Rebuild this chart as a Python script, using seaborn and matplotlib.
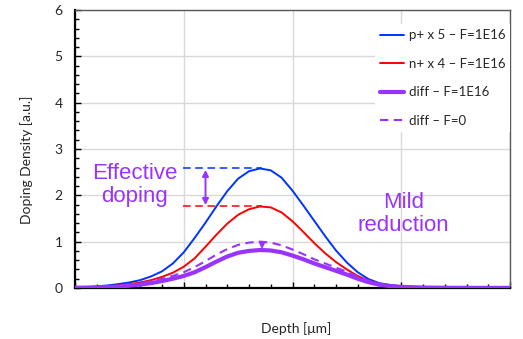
import numpy as np
import pandas as pd
import matplotlib
matplotlib.use("Agg")
import matplotlib.pyplot as plt
import seaborn as sns
from matplotlib.ticker import MultipleLocator, NullFormatter

# ---- data ----
depth = [0.0, 0.1, 0.2, 0.3, 0.4, 0.5, 0.6, 0.7, 0.8, 0.9,
         1.0, 1.1, 1.2, 1.3, 1.4, 1.5, 1.6, 1.7, 1.8, 1.9,
         2.0, 2.1, 2.2, 2.3, 2.4, 2.5, 2.6, 2.7, 2.8, 2.9,
         3.0, 3.1, 3.2, 3.3, 3.4, 3.5, 3.6, 3.7, 3.8, 3.9, 4.0]
p_plus = [0.01, 0.02, 0.035, 0.055, 0.085, 0.12, 0.17, 0.25, 0.36, 0.53,
          0.77, 1.08, 1.41, 1.76, 2.09, 2.36, 2.52, 2.58, 2.54, 2.38,
          2.10, 1.78, 1.45, 1.12, 0.81, 0.55, 0.34, 0.19, 0.105, 0.065,
          0.04, 0.03, 0.02, 0.015, 0.01, 0.008, 0.006, 0.005, 0.004, 0.004, 0.004]
n_plus = [0.005, 0.012, 0.022, 0.035, 0.055, 0.085, 0.12, 0.17, 0.24, 0.33,
          0.46, 0.64, 0.89, 1.15, 1.39, 1.58, 1.70, 1.76, 1.74, 1.63,
          1.44, 1.21, 0.97, 0.75, 0.56, 0.40, 0.26, 0.155, 0.09, 0.05,
          0.03, 0.02, 0.012, 0.008, 0.005, 0.004, 0.004, 0.003, 0.003, 0.003, 0.003]
diff_f = [0.005, 0.008, 0.013, 0.02, 0.03, 0.05, 0.075, 0.105, 0.15, 0.20,
          0.26, 0.34, 0.45, 0.57, 0.68, 0.76, 0.80, 0.82, 0.81, 0.77,
          0.70, 0.62, 0.53, 0.45, 0.37, 0.29, 0.20, 0.125, 0.07, 0.04,
          0.025, 0.015, 0.01, 0.007, 0.005, 0.004, 0.004, 0.003, 0.003, 0.003, 0.003]
diff_0 = [0.005, 0.01, 0.015, 0.025, 0.04, 0.065, 0.10, 0.145, 0.20, 0.26,
          0.34, 0.45, 0.58, 0.72, 0.84, 0.93, 0.98, 1.00, 0.98, 0.92,
          0.83, 0.73, 0.62, 0.53, 0.44, 0.35, 0.25, 0.16, 0.09, 0.05,
          0.03, 0.02, 0.012, 0.008, 0.005, 0.004, 0.004, 0.003, 0.003, 0.003, 0.003]

labels = ["p+ x 5 \u2013 F=1E16", "n+ x 4 \u2013 F=1E16",
          "diff \u2013 F=1E16", "diff \u2013 F=0"]
peak_p = 2.58
peak_n = 1.76
peak_d0 = 1.00
peak_df = 0.82
peak_x = 1.72
yticks = [0, 1, 2, 3, 4, 5, 6]

BLUE = "#0033FF"
RED = "#FF0000"
PURPLE = "#9933FF"

sns.set_style("ticks")
plt.rcParams["font.family"] = ["Lato", "DejaVu Sans"]

fig = plt.figure(figsize=(5.23, 3.39), dpi=100)
ax = fig.add_axes([75 / 523, 1 - 288 / 339, 435 / 523, 278 / 339])

df = pd.DataFrame({"depth": depth, "p": p_plus, "n": n_plus,
                   "df": diff_f, "d0": diff_0})

sns.lineplot(data=df, x="depth", y="p", ax=ax, color=BLUE, lw=1.4,
             label=labels[0], zorder=4)
sns.lineplot(data=df, x="depth", y="n", ax=ax, color=RED, lw=1.4,
             label=labels[1], zorder=4)
sns.lineplot(data=df, x="depth", y="df", ax=ax, color=PURPLE, lw=3.0,
             label=labels[2], zorder=5)
sns.lineplot(data=df, x="depth", y="d0", ax=ax, color=PURPLE, lw=1.5,
             label=labels[3], zorder=4)
ax.lines[3].set_linestyle((0, (4.0, 2.6)))

# reference dashed lines
ax.plot([0.99, peak_x], [peak_p, peak_p], color=BLUE, lw=1.1,
        ls=(0, (5, 3)), zorder=3)
ax.plot([0.99, peak_x], [peak_n, peak_n], color=RED, lw=1.1,
        ls=(0, (5, 3)), zorder=3)

# arrows
ax.annotate("", xy=(1.2, peak_n + 0.03), xytext=(1.2, peak_p - 0.03),
            arrowprops=dict(arrowstyle="<|-|>", color=PURPLE, lw=1.4,
                            mutation_scale=9, shrinkA=0, shrinkB=0), zorder=6)
ax.annotate("", xy=(peak_x, peak_df + 0.02), xytext=(peak_x, peak_d0 - 0.02),
            arrowprops=dict(arrowstyle="-|>", color=PURPLE, lw=1.4,
                            mutation_scale=9, shrinkA=0, shrinkB=0), zorder=6)

ax.text(0.55, 2.22, "Effective\ndoping", color=PURPLE, fontsize=16,
        family=["Liberation Sans", "DejaVu Sans"], ha="center", va="center",
        linespacing=1.12)
ax.text(3.02, 1.6, "Mild\nreduction", color=PURPLE, fontsize=16,
        family=["Liberation Sans", "DejaVu Sans"], ha="center", va="center",
        linespacing=1.12)

ax.set_xlim(0, 4)
ax.set_ylim(0, 6)
ax.set_yticks(yticks)
ax.xaxis.set_major_locator(MultipleLocator(1))
ax.xaxis.set_minor_locator(MultipleLocator(0.2))
ax.yaxis.set_minor_locator(MultipleLocator(0.2))
ax.xaxis.set_major_formatter(NullFormatter())
ax.grid(True, which="major", color="#d9d9d9", lw=1.0, zorder=0)
ax.set_axisbelow(True)
ax.tick_params(axis="both", which="both", direction="in", color="black")
ax.tick_params(axis="both", which="major", length=4, width=1.0,
               labelsize=10, pad=9)
ax.tick_params(axis="both", which="minor", length=3, width=1.0)
ax.tick_params(axis="x", which="both", top=False)
ax.tick_params(axis="y", which="both", right=False)

for s in ["left", "bottom"]:
    ax.spines[s].set_color("black")
    ax.spines[s].set_linewidth(1.6)
for s in ["top", "right"]:
    ax.spines[s].set_color("#595959")
    ax.spines[s].set_linewidth(1.0)

ax.set_xlabel("Depth [\u03bcm]", fontsize=10)
ax.set_ylabel("Doping Density [a.u.]", fontsize=10)
ax.xaxis.set_label_coords((296 - 75) / 435, -(322 - 288) / 278)
ax.yaxis.set_label_coords(-(75 - 33) / 435, (288 - 160) / 278)

leg = ax.legend(loc="upper left", bbox_to_anchor=(0.69, (288 - 24) / 278),
                frameon=True, facecolor="white", edgecolor="none",
                framealpha=1, fontsize=9.5, handlelength=1.75,
                handletextpad=0.38, labelspacing=1.25, borderpad=0.4,
                borderaxespad=0.0)
leg.get_frame().set_boxstyle("square", pad=0)
leg.set_zorder(10)

fig.savefig("out.png", dpi=100)
